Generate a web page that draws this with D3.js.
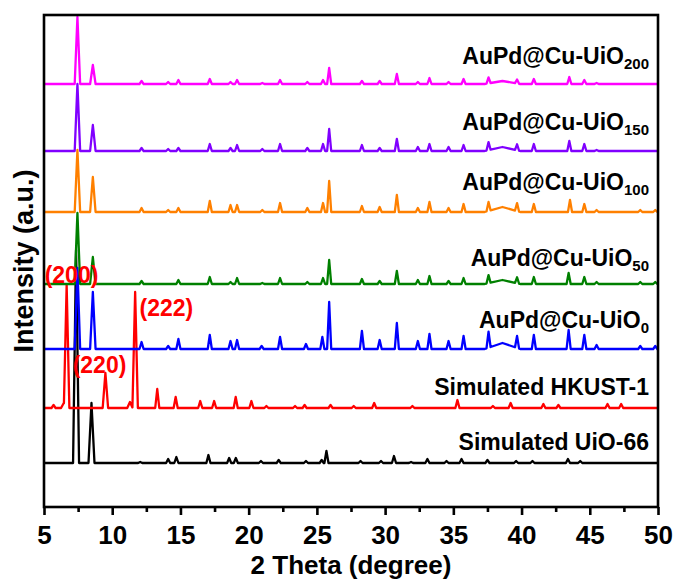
<!DOCTYPE html>
<html>
<head>
<meta charset="utf-8">
<script src="https://cdn.jsdelivr.net/npm/d3@7"></script>
<style>
  html, body { margin: 0; padding: 0; background: #fff; }
  text { font-family: "Liberation Sans", Arial, "DejaVu Sans", sans-serif; font-weight: bold; }
</style>
</head>
<body>
<svg id="chart" width="676" height="581"></svg>
<script>
// ---------- data ----------
const xTicks = [5, 10, 15, 20, 25, 30, 35, 40, 45, 50];
const xMinorTicks = [7.5, 12.5, 17.5, 22.5, 27.5, 32.5, 37.5, 42.5, 47.5];

const seriesNames = ["Simulated UiO-66", "Simulated HKUST-1", "AuPd@Cu-UiO", "AuPd@Cu-UiO", "AuPd@Cu-UiO", "AuPd@Cu-UiO", "AuPd@Cu-UiO"];
const seriesSubs  = ["", "", "0", "50", "100", "150", "200"];
const seriesColors = ["#000000", "#ff0000", "#0000ff", "#008000", "#ff8000", "#8000ff", "#ff00ff"];
// vertical offset of each pattern (a.u.)
const seriesOffsets = [44, 99, 158, 223, 295, 356, 423];

// peaks: [2theta, intensity (a.u.), half-width (deg, optional)]
const peaksUiO66 = [[7.35,213,0.22],[8.48,60,0.22],[12.05,1],[14.1,4],[14.7,6],[17.05,8],[18.57,5],[19.06,5],[20.9,2],[22.2,3],[24.2,2],[25.35,3],[25.7,12],[28.2,2],[29.7,2],[30.65,7],[31.9,1],[33.1,4],[34.5,2],[35.6,4],[37.5,3],[39.6,2],[40.8,2],[43.4,4],[44.3,2]];
const peaksHKUST = [[5.7,3],[6.45,5,0.2],[6.66,123,0.2],[9.5,35,0.2],[11.3,6,0.2],[11.68,116,0.2],[13.3,19],[14.65,11],[16.45,7],[17.47,7],[19.05,11],[20.2,7],[21.3,2],[23.4,2],[24.1,3],[26.0,3],[27.7,2],[29.2,5],[32.0,2],[35.3,8],[37.9,2],[39.2,5],[41.6,4],[42.7,3],[46.3,4],[47.3,4]];
const peaksUiO0 = [[7.45,81,0.2],[8.58,57,0.2],[12.15,7],[14.1,3],[14.85,10],[17.15,14],[18.67,8],[19.15,9],[20.95,3],[22.3,12],[24.2,5],[25.4,12],[25.9,47],[28.3,18],[29.6,9],[30.86,26],[32.4,8],[33.25,15],[34.65,8],[35.75,13],[37.58,16],[38.6,6,1.3],[39.67,12],[40.9,14],[43.45,19],[44.6,14],[45.5,4],[48.7,3],[49.8,3]];
const peaksUiO50 = [[7.45,71,0.2],[8.58,27,0.2],[12.15,3],[14.85,4],[17.15,7],[18.67,2],[19.15,6],[21,1],[22.3,6],[24.3,2],[25.45,6],[25.9,24],[28.3,5],[29.6,3],[30.86,13],[32.4,4],[33.25,8],[34.65,3],[35.75,6],[37.58,8],[38.6,4,1.3],[39.67,6],[40.9,7],[43.45,11],[44.6,7],[45.5,2],[48.7,2],[49.8,2]];
const peaksUiO100 = [[7.45,62,0.2],[8.58,35,0.2],[12.15,4],[14.1,2],[14.85,4],[17.15,11],[18.67,7],[19.15,7],[21,2],[22.3,9],[24.3,4],[25.45,9],[25.9,31],[28.3,6],[29.6,5],[30.86,17],[32.4,4],[33.25,10],[34.65,4],[35.75,8],[37.58,9],[38.6,5,1.3],[39.67,8],[40.9,8],[43.55,12],[44.6,8],[45.5,2],[48.7,2],[49.8,2]];
const peaksUiO150 = [[7.45,67,0.2],[8.58,26,0.2],[12.15,3],[14.1,2],[14.85,3],[17.15,7],[18.67,3],[19.15,6],[21,2],[22.3,7],[24.3,3],[25.45,7],[25.9,22],[28.3,6],[29.6,3],[30.86,12],[32.4,4],[33.25,7],[34.65,4],[35.75,6],[37.58,8],[38.6,4,1.3],[39.67,6],[40.9,7],[43.5,10],[44.6,7],[45.5,1]];
const peaksUiO200 = [[7.45,67,0.2],[8.58,19,0.2],[12.15,3],[14.1,2],[14.85,4],[17.15,5],[18.67,2],[19.15,4],[21,1],[22.3,4],[24.3,2],[25.45,4],[25.9,16],[28.3,3],[29.6,3],[30.86,10],[32.4,2],[33.25,6],[34.65,2],[35.75,5],[37.58,6],[38.6,3,1.3],[39.67,4],[40.9,5],[43.5,7],[44.6,4],[45.5,1]];
const seriesPeaks = [peaksUiO66, peaksHKUST, peaksUiO0, peaksUiO50, peaksUiO100, peaksUiO150, peaksUiO200];

const peakLabels = ["(200)", "(222)", "(220)"];
const peakLabelPos = [[5.05, 224], [12.0, 191], [7.1, 134]]; // [2theta, a.u.] of text start/baseline

// ---------- layout ----------
const svg = d3.select("#chart");
const L = 44, R = 658, T = 15, B = 507;
const x = d3.scaleLinear().domain([5, 50]).range([L, R]);
const y = d3.scaleLinear().domain([0, 492]).range([B, T]);

const defs = svg.append("defs");
defs.append("clipPath").attr("id", "clip").append("rect")
  .attr("x", L).attr("y", T).attr("width", R - L).attr("height", B - T);

function profile(peaks) {
  const DW = 0.15;
  let xs = [5, 50];
  peaks.forEach(p => { const w = p[2] || DW; xs.push(p[0] - w, p[0], p[0] + w); });
  xs = Array.from(new Set(xs.filter(v => v >= 5 && v <= 50))).sort((a, b) => a - b);
  return xs.map(v => {
    let s = 0;
    peaks.forEach(p => { const w = p[2] || DW; const d = Math.abs(v - p[0]); if (d < w) s += p[1] * (1 - d / w); });
    return [v, s];
  });
}

const line = d3.line().x(d => x(d[0])).y(d => y(d[1]));
const g = svg.append("g").attr("clip-path", "url(#clip)");
seriesPeaks.forEach((pk, i) => {
  const pts = profile(pk).map(d => [d[0], d[1] + seriesOffsets[i]]);
  g.append("path").datum(pts)
    .attr("d", line)
    .attr("fill", "none")
    .attr("stroke", seriesColors[i])
    .attr("stroke-width", 2.3)
    .attr("stroke-linejoin", "round");
});

// frame
svg.append("rect").attr("x", L).attr("y", T).attr("width", R - L).attr("height", B - T)
  .attr("fill", "none").attr("stroke", "#000").attr("stroke-width", 2.6);

// bottom axis: minor ticks
const minor = svg.append("g").attr("transform", `translate(0,${B})`)
  .call(d3.axisBottom(x).tickValues(xMinorTicks).tickSize(5).tickFormat(""));
minor.select(".domain").remove();
minor.selectAll("line").attr("stroke-width", 2.6);

const major = svg.append("g").attr("transform", `translate(0,${B})`)
  .call(d3.axisBottom(x).tickValues(xTicks).tickSize(8).tickFormat(d3.format("d")));
major.select(".domain").remove();
major.selectAll("line").attr("stroke-width", 2.6);
major.selectAll("text").attr("y", 37).attr("dy", null)
  .style("font-size", "26px").style("font-weight", "bold").attr("fill", "#000")
  .style("font-family", '"Liberation Sans", Arial, sans-serif');

// axis titles
svg.append("text").attr("x", (L + R) / 2).attr("y", 574).attr("text-anchor", "middle")
  .style("font-size", "26px").text("2 Theta (degree)");
svg.append("text").attr("transform", `translate(33,261) rotate(-90)`).attr("text-anchor", "middle")
  .style("font-size", "27px").text("Intensity (a.u.)");

// series labels
const labelY = [450, 395, 328, 266, 190, 130, 64];
seriesNames.forEach((n, i) => {
  const t = svg.append("text").attr("x", 649).attr("y", labelY[i]).attr("text-anchor", "end")
    .style("font-size", "23px").attr("fill", "#000").text(n);
  if (seriesSubs[i]) t.append("tspan").attr("dy", 5).style("font-size", "15px").text(seriesSubs[i]);
});

// peak labels
peakLabels.forEach((s, i) => {
  svg.append("text").attr("x", x(peakLabelPos[i][0])).attr("y", y(peakLabelPos[i][1]))
    .attr("fill", "#ff0000").style("font-size", "23px").text(s);
});
</script>
</body>
</html>
